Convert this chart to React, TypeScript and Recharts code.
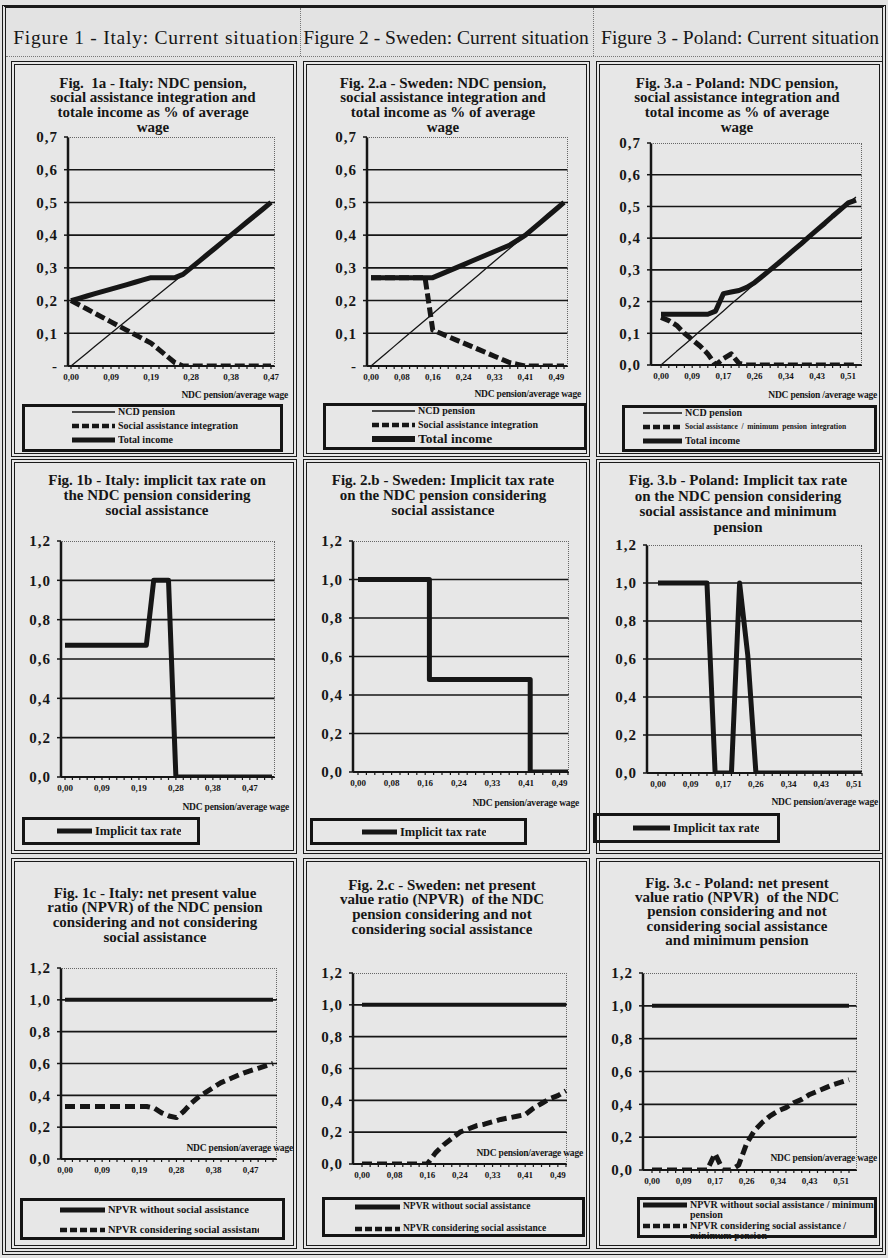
import React from 'react';
import { LineChart, Line, XAxis, YAxis, CartesianGrid } from 'recharts';

const SERIF = "'Liberation Serif', 'Times New Roman', serif";
const INK = '#161616';

// x categories: NDC pension / average wage
const italyXa = [0, 0.0189, 0.0378, 0.0567, 0.0756, 0.0945, 0.1134, 0.1323, 0.1512, 0.1701, 0.189, 0.2079, 0.2268, 0.2457, 0.2646, 0.2835, 0.3024, 0.3213, 0.3402, 0.3591, 0.378, 0.3969, 0.4158, 0.4347, 0.4536, 0.4725];
const italyXbc = [0, 0.0189, 0.0378, 0.0567, 0.0756, 0.0945, 0.1134, 0.1323, 0.1512, 0.1701, 0.189, 0.2079, 0.2268, 0.2457, 0.2646, 0.2835, 0.3024, 0.3213, 0.3402, 0.3591, 0.378, 0.3969, 0.4158, 0.4347, 0.4536, 0.4725, 0.4914, 0.5103, 0.5292];
const swedenX = [0, 0.0204, 0.0408, 0.0612, 0.0816, 0.102, 0.1224, 0.1428, 0.1632, 0.1836, 0.204, 0.2244, 0.2448, 0.2652, 0.2856, 0.306, 0.3264, 0.3468, 0.3672, 0.3876, 0.408, 0.4284, 0.4488, 0.4692, 0.4896, 0.51];
const polandX = [0, 0.0213, 0.0426, 0.0639, 0.0852, 0.1065, 0.1278, 0.1491, 0.1704, 0.1917, 0.213, 0.2343, 0.2556, 0.2769, 0.2982, 0.3195, 0.3408, 0.3621, 0.3834, 0.4047, 0.426, 0.4473, 0.4686, 0.4899, 0.5112, 0.5325];

// y ticks
const incomeTicks = [0, 0.1, 0.2, 0.3, 0.4, 0.5, 0.6, 0.7];
const ratioTicks = [0, 0.2, 0.4, 0.6, 0.8, 1.0, 1.2];

// Fig 1a - Italy
const italyNcd = [0, 0.02, 0.04, 0.06, 0.08, 0.1, 0.12, 0.14, 0.16, 0.18, 0.2, 0.22, 0.24, 0.26, 0.28, 0.3, 0.32, 0.34, 0.36, 0.38, 0.4, 0.42, 0.44, 0.46, 0.48, 0.5];
const italySocial = [0.2, 0.187, 0.174, 0.161, 0.148, 0.135, 0.122, 0.109, 0.096, 0.083, 0.07, 0.05, 0.03, 0.01, 0, 0, 0, 0, 0, 0, 0, 0, 0, 0, 0, 0];
const italyTotal = [0.2, 0.207, 0.214, 0.221, 0.228, 0.235, 0.242, 0.249, 0.256, 0.263, 0.27, 0.27, 0.27, 0.27, 0.28, 0.3, 0.32, 0.34, 0.36, 0.38, 0.4, 0.42, 0.44, 0.46, 0.48, 0.5];
// Fig 1b
const italyTax = [0.67, 0.67, 0.67, 0.67, 0.67, 0.67, 0.67, 0.67, 0.67, 0.67, 0.67, 0.67, 1, 1, 1, 0, 0, 0, 0, 0, 0, 0, 0, 0, 0, 0, 0, 0, 0];
// Fig 1c
const italyNpvrWithout = [1, 1, 1, 1, 1, 1, 1, 1, 1, 1, 1, 1, 1, 1, 1, 1, 1, 1, 1, 1, 1, 1, 1, 1, 1, 1, 1, 1, 1];
const italyNpvrWith = [0.33, 0.33, 0.33, 0.33, 0.33, 0.33, 0.33, 0.33, 0.33, 0.33, 0.33, 0.33, 0.32, 0.29, 0.27, 0.26, 0.3, 0.35, 0.39, 0.42, 0.45, 0.48, 0.5, 0.52, 0.54, 0.555, 0.57, 0.585, 0.6];

// Fig 2a - Sweden
const swedenNcd = [0, 0.02, 0.04, 0.06, 0.08, 0.1, 0.12, 0.14, 0.16, 0.18, 0.2, 0.22, 0.24, 0.26, 0.28, 0.3, 0.32, 0.34, 0.36, 0.38, 0.4, 0.42, 0.44, 0.46, 0.48, 0.5];
const swedenSocial = [0.27, 0.27, 0.27, 0.27, 0.27, 0.27, 0.27, 0.27, 0.11, 0.1, 0.09, 0.08, 0.07, 0.06, 0.05, 0.04, 0.03, 0.02, 0.01, 0.005, 0, 0, 0, 0, 0, 0];
const swedenTotal = [0.27, 0.27, 0.27, 0.27, 0.27, 0.27, 0.27, 0.27, 0.27, 0.28, 0.29, 0.3, 0.31, 0.32, 0.33, 0.34, 0.35, 0.36, 0.37, 0.385, 0.4, 0.42, 0.44, 0.46, 0.48, 0.5];
// Fig 2b
const swedenTax = [1, 1, 1, 1, 1, 1, 1, 1, 1, 0.48, 0.48, 0.48, 0.48, 0.48, 0.48, 0.48, 0.48, 0.48, 0.48, 0.48, 0.48, 0, 0, 0, 0, 0];
// Fig 2c
const swedenNpvrWithout = [1, 1, 1, 1, 1, 1, 1, 1, 1, 1, 1, 1, 1, 1, 1, 1, 1, 1, 1, 1, 1, 1, 1, 1, 1, 1];
const swedenNpvrWith = [0, 0, 0, 0, 0, 0, 0, 0, 0, 0.07, 0.12, 0.16, 0.2, 0.22, 0.24, 0.25, 0.265, 0.28, 0.29, 0.3, 0.31, 0.35, 0.38, 0.41, 0.43, 0.46];

// Fig 3a - Poland
const polandNcd = [0, 0.021, 0.043, 0.064, 0.085, 0.107, 0.128, 0.149, 0.17, 0.192, 0.213, 0.234, 0.256, 0.277, 0.298, 0.32, 0.341, 0.362, 0.383, 0.405, 0.426, 0.447, 0.469, 0.49, 0.511, 0.53];
const polandSocial = [0.15, 0.14, 0.125, 0.1, 0.08, 0.06, 0.035, 0, 0.02, 0.035, 0.005, 0, 0, 0, 0, 0, 0, 0, 0, 0, 0, 0, 0, 0, 0, 0];
const polandTotal = [0.16, 0.16, 0.16, 0.16, 0.16, 0.16, 0.16, 0.17, 0.225, 0.23, 0.235, 0.245, 0.26, 0.28, 0.3, 0.32, 0.341, 0.362, 0.383, 0.405, 0.426, 0.447, 0.469, 0.49, 0.511, 0.52];
// Fig 3b
const polandTax = [1, 1, 1, 1, 1, 1, 1, 0, 0, 0, 1, 0.62, 0, 0, 0, 0, 0, 0, 0, 0, 0, 0, 0, 0, 0, 0];
// Fig 3c
const polandNpvrWithout = [1, 1, 1, 1, 1, 1, 1, 1, 1, 1, 1, 1, 1, 1, 1, 1, 1, 1, 1, 1, 1, 1, 1, 1, 1, 1];
const polandNpvrWith = [0, 0, 0, 0, 0, 0, 0, 0, 0.1, 0, 0, 0.03, 0.16, 0.24, 0.29, 0.33, 0.36, 0.38, 0.41, 0.43, 0.46, 0.48, 0.5, 0.52, 0.535, 0.55];

type Box = { l: number; t: number; r: number; b: number };
type SeriesDef = { key: string; width: number; dash?: string; step?: boolean };

const comma = (v: number, d: number) => v.toFixed(d).replace('.', ',');

function Plot({
  data,
  series,
  every,
  yTicks,
  dashZero,
  box,
  padL,
  padR,
}: {
  data: Array<Record<string, number>>;
  series: SeriesDef[];
  every: number;
  yTicks: number[];
  dashZero?: boolean;
  box: Box;
  padL: number;
  padR: number;
}) {
  const w = box.r - box.l + 80;
  const h = box.b - box.t + 62;
  const top = yTicks[yTicks.length - 1];
  return (
    <>
      <div style={{ position: 'absolute', left: box.l - 50, top: box.t - 12 }}>
        <LineChart width={w} height={h} data={data} margin={{ top: 12, right: 30, bottom: 0, left: 0 }}>
          <CartesianGrid
            vertical={false}
            horizontalValues={yTicks.slice(1, -1)}
            stroke={INK}
            strokeWidth={1.6}
            strokeDasharray=""
          />
          <XAxis
            dataKey='x'
            type='category'
            interval={0}
            height={50}
            padding={{ left: padL, right: padR }}
            tickSize={3}
            tickMargin={5}
            tickFormatter={(v: number, i: number) => (i % every === 0 ? comma(v, 2) : '')}
            tick={{ fontSize: 9, fill: INK, fontFamily: SERIF, fontWeight: 'bold' }}
            axisLine={{ stroke: INK, strokeWidth: 2 }}
            tickLine={{ stroke: INK, strokeWidth: 1.2 }}
          />
          <YAxis
            type='number'
            domain={[0, top]}
            ticks={yTicks}
            interval={0}
            width={50}
            tickSize={4}
            tickMargin={6}
            allowDataOverflow
            tickFormatter={(v: number) => (v === 0 && dashZero ? '-' : comma(v, 1))}
            tick={{ fontSize: 15, fill: INK, fontFamily: SERIF, fontWeight: 'bold', letterSpacing: 1 }}
            axisLine={{ stroke: INK, strokeWidth: 2.5 }}
            tickLine={{ stroke: INK, strokeWidth: 1.5 }}
          />
          {series.map((s) => (
            <Line
              key={s.key}
              dataKey={s.key}
              type={s.step ? 'step' : 'linear'}
              stroke={INK}
              strokeWidth={s.width}
              strokeDasharray={s.dash}
              strokeLinejoin='round'
              dot={false}
              activeDot={false}
              isAnimationActive={false}
            />
          ))}
        </LineChart>
      </div>
      <div
        style={{
          position: 'absolute',
          left: box.l,
          top: box.t,
          width: box.r - box.l,
          height: box.b - box.t,
          borderTop: '1px dotted #666',
          borderRight: '1px dotted #666',
          boxSizing: 'border-box',
          pointerEvents: 'none',
        }}
      />
    </>
  );
}

type Kind = 'thin' | 'dash' | 'thick';
type LegendItem = { label: string; kind: Kind; y: number; fontSize: number; textW: number; lh?: number; big?: boolean };

function Legend({
  box,
  sampleX,
  sampleW,
  textX,
  items,
}: {
  box: { l: number; t: number; w: number; h: number };
  sampleX: number;
  sampleW: number;
  textX: number;
  items: LegendItem[];
}) {
  return (
    <>
      <div
        style={{
          position: 'absolute',
          left: box.l,
          top: box.t,
          width: box.w,
          height: box.h,
          border: '3px solid #141414',
          boxSizing: 'border-box',
        }}
      />
      {items.map((it, i) => {
        const sw = it.kind === 'thin' ? 1.5 : it.kind === 'dash' ? 4.5 : it.big ? 6 : 5;
        const lh = it.lh ?? it.fontSize + 2;
        return (
          <React.Fragment key={i}>
            <svg
              style={{ position: 'absolute', left: sampleX, top: it.y - 5, overflow: 'visible' }}
              width={sampleW}
              height={10}
            >
              <line
                x1={0}
                y1={5}
                x2={sampleW}
                y2={5}
                stroke={INK}
                strokeWidth={sw}
                strokeDasharray={it.kind === 'dash' ? '7 3' : undefined}
              />
            </svg>
            <div
              style={{
                position: 'absolute',
                left: textX,
                top: it.y - lh / 2,
                width: it.textW,
                overflow: 'hidden',
                whiteSpace: 'pre',
                fontSize: it.fontSize,
                lineHeight: `${lh}px`,
                fontFamily: SERIF,
                fontWeight: 'bold',
                color: INK,
              }}
            >
              {it.label}
            </div>
          </React.Fragment>
        );
      })}
    </>
  );
}

function Title({ cx, y0, lh, lines }: { cx: number; y0: number; lh: number; lines: string[] }) {
  return (
    <div
      style={{
        position: 'absolute',
        left: cx - 128,
        top: y0 - lh / 2,
        width: 256,
        display: 'flex',
        flexDirection: 'column',
        alignItems: 'center',
        fontFamily: SERIF,
        fontWeight: 'bold',
        fontSize: 15,
        lineHeight: `${lh}px`,
        color: INK,
      }}
    >
      {lines.map((line, i) => (
        <span key={i} style={{ whiteSpace: 'pre' }}>
          {line}
        </span>
      ))}
    </div>
  );
}

function AxisName({ right, cy, text }: { right: number; cy: number; text: string }) {
  return (
    <div
      style={{
        position: 'absolute',
        left: right - 120,
        top: cy - 6,
        width: 120,
        textAlign: 'right',
        whiteSpace: 'pre',
        fontFamily: SERIF,
        fontWeight: 'bold',
        fontSize: 9.5,
        lineHeight: '12px',
        color: INK,
        letterSpacing: -0.2,
      }}
    >
      {text}
    </div>
  );
}

function Panel({ l, t, w, h }: { l: number; t: number; w: number; h: number }) {
  return (
    <div
      style={{
        position: 'absolute',
        left: l,
        top: t,
        width: w,
        height: h,
        border: '4px double #1a1a1a',
        boxSizing: 'border-box',
        background: '#e7e7e7',
      }}
    />
  );
}

const AXIS_NAME = 'NDC pension/average wage';

export default function App() {
  const rows1a = italyXa.map((x, i) => ({ x, ncd: italyNcd[i], social: italySocial[i], total: italyTotal[i] }));
  const rows1b = italyXbc.map((x, i) => ({ x, tax: italyTax[i] }));
  const rows1c = italyXbc.map((x, i) => ({ x, without: italyNpvrWithout[i], withSa: italyNpvrWith[i] }));
  const rows2a = swedenX.map((x, i) => ({ x, ncd: swedenNcd[i], social: swedenSocial[i], total: swedenTotal[i] }));
  const rows2b = swedenX.map((x, i) => ({ x, tax: swedenTax[i] }));
  const rows2c = swedenX.map((x, i) => ({ x, without: swedenNpvrWithout[i], withSa: swedenNpvrWith[i] }));
  const rows3a = polandX.map((x, i) => ({ x, ncd: polandNcd[i], social: polandSocial[i], total: polandTotal[i] }));
  const rows3b = polandX.map((x, i) => ({ x, tax: polandTax[i] }));
  const rows3c = polandX.map((x, i) => ({ x, without: polandNpvrWithout[i], withSa: polandNpvrWith[i] }));

  const incomeSeries: SeriesDef[] = [
    { key: 'ncd', width: 1.3 },
    { key: 'social', width: 5, dash: '10 4' },
    { key: 'total', width: 5 },
  ];
  const taxSeries: SeriesDef[] = [{ key: 'tax', width: 5 }];
  const npvrSeries: SeriesDef[] = [
    { key: 'without', width: 4 },
    { key: 'withSa', width: 5, dash: '10 5' },
  ];

  const headerStyle: React.CSSProperties = {
    position: 'absolute',
    top: 26,
    width: 300,
    textAlign: 'center',
    fontFamily: SERIF,
    fontSize: 19.5,
    lineHeight: '24px',
    whiteSpace: 'pre',
    color: INK,
  };

  return (
    <div
      style={{
        position: 'absolute',
        left: 0,
        top: 0,
        width: 888,
        height: 1258,
        background: '#e3e3e3',
        overflow: 'hidden',
      }}
    >
      {/* page frame */}
      <div
        style={{
          position: 'absolute',
          left: 2,
          top: 5,
          width: 884,
          height: 1250,
          border: '4px double #1a1a1a',
          borderTopStyle: 'solid',
          borderTopWidth: 3,
          boxSizing: 'border-box',
        }}
      />
      <div style={{ position: 'absolute', left: 6, top: 56, width: 876, borderTop: '1px dotted #777' }} />
      <div style={{ position: 'absolute', left: 300, top: 8, height: 48, borderLeft: '1px dotted #777' }} />
      <div style={{ position: 'absolute', left: 593, top: 8, height: 48, borderLeft: '1px dotted #777' }} />
      <div style={{ ...headerStyle, left: 6, letterSpacing: 0.75 }}>Figure 1 - Italy: Current situation</div>
      <div style={{ ...headerStyle, left: 296 }}>Figure 2 - Sweden: Current situation</div>
      <div style={{ ...headerStyle, left: 590 }}>Figure 3 - Poland: Current situation</div>

      {/* panels */}
      <Panel l={11} t={61} w={286} h={396} />
      <Panel l={303} t={61} w={287} h={396} />
      <Panel l={596} t={61} w={287} h={396} />
      <Panel l={11} t={459} w={286} h={395} />
      <Panel l={303} t={459} w={287} h={395} />
      <Panel l={596} t={459} w={287} h={395} />
      <Panel l={11} t={858} w={286} h={391} />
      <Panel l={303} t={858} w={287} h={391} />
      <Panel l={596} t={858} w={287} h={391} />

      {/* Fig 1a */}
      <Title cx={153} y0={83} lh={14.7} lines={['Fig.  1a - Italy: NDC pension,', 'social assistance integration and', 'totale income as % of average', 'wage']} />
      <Plot data={rows1a} series={incomeSeries} every={5} yTicks={incomeTicks} dashZero box={{ l: 68, t: 137, r: 275, b: 366 }} padL={3} padR={4} />
      <AxisName right={288} cy={395} text={AXIS_NAME} />
      <Legend
        box={{ l: 22, t: 404, w: 261, h: 48 }}
        sampleX={72}
        sampleW={43}
        textX={118}
        items={[
          { label: 'NCD pension', kind: 'thin', y: 412, fontSize: 10, textW: 150 },
          { label: 'Social assistance integration', kind: 'dash', y: 426, fontSize: 10, textW: 122 },
          { label: 'Total income', kind: 'thick', y: 440, fontSize: 10, textW: 150 },
        ]}
      />

      {/* Fig 2a */}
      <Title cx={443} y0={83} lh={14.7} lines={['Fig. 2.a - Sweden: NDC pension,', 'social assistance integration and', 'total income as % of average', 'wage']} />
      <Plot data={rows2a} series={incomeSeries} every={4} yTicks={incomeTicks} dashZero box={{ l: 367, t: 137, r: 568, b: 366 }} padL={4} padR={4} />
      <AxisName right={581} cy={394} text={AXIS_NAME} />
      <Legend
        box={{ l: 323, t: 403, w: 264, h: 47 }}
        sampleX={372}
        sampleW={43}
        textX={418}
        items={[
          { label: 'NCD pension', kind: 'thin', y: 411, fontSize: 10, textW: 150 },
          { label: 'Social assistance integration', kind: 'dash', y: 425, fontSize: 10, textW: 122 },
          { label: 'Total income', kind: 'thick', y: 439, fontSize: 13.5, textW: 150, big: true },
        ]}
      />

      {/* Fig 3a */}
      <Title cx={737} y0={83} lh={14.7} lines={['Fig. 3.a - Poland: NDC pension,', 'social assistance integration and', 'total income as % of average', 'wage']} />
      <Plot data={rows3a} series={incomeSeries} every={4} yTicks={incomeTicks} box={{ l: 651, t: 143, r: 862, b: 365 }} padL={10} padR={6} />
      <AxisName right={877} cy={395} text='NDC pension /average wage' />
      <Legend
        box={{ l: 622, t: 405, w: 255, h: 47 }}
        sampleX={643}
        sampleW={39}
        textX={685}
        items={[
          { label: 'NCD pension', kind: 'thin', y: 413, fontSize: 10, textW: 150 },
          { label: 'Social assistance  /  minimum  pension  integration', kind: 'dash', y: 427, fontSize: 7.5, textW: 170 },
          { label: 'Total income', kind: 'thick', y: 441, fontSize: 10, textW: 150 },
        ]}
      />

      {/* Fig 1b */}
      <Title cx={157} y0={480} lh={15} lines={['Fig. 1b - Italy: implicit tax rate on', 'the NDC pension considering', 'social assistance']} />
      <Plot data={rows1b} series={taxSeries} every={5} yTicks={ratioTicks} box={{ l: 61, t: 541, r: 275, b: 777 }} padL={4} padR={3} />
      <AxisName right={289} cy={807} text={AXIS_NAME} />
      <Legend
        box={{ l: 22, t: 817, w: 178, h: 28 }}
        sampleX={57}
        sampleW={35}
        textX={95}
        items={[{ label: 'Implicit tax rate', kind: 'thick', y: 831, fontSize: 12.5, textW: 86 }]}
      />

      {/* Fig 2b */}
      <Title cx={443} y0={480} lh={15} lines={['Fig. 2.b - Sweden: Implicit tax rate', 'on the NDC pension considering', 'social assistance']} />
      <Plot data={rows2b} series={[{ key: 'tax', width: 5, step: true }]} every={4} yTicks={ratioTicks} box={{ l: 353, t: 541, r: 569, b: 772 }} padL={5} padR={1} />
      <AxisName right={579} cy={803} text={AXIS_NAME} />
      <Legend
        box={{ l: 310, t: 818, w: 217, h: 27 }}
        sampleX={362}
        sampleW={35}
        textX={400}
        items={[{ label: 'Implicit tax rate', kind: 'thick', y: 832, fontSize: 12.5, textW: 86 }]}
      />

      {/* Fig 3b */}
      <Title cx={738} y0={481} lh={15.6} lines={['Fig. 3.b - Poland: Implicit tax rate', 'on the NDC pension considering', 'social assistance and minimum', 'pension']} />
      <Plot data={rows3b} series={taxSeries} every={4} yTicks={ratioTicks} box={{ l: 647, t: 545, r: 862, b: 773 }} padL={11} padR={0} />
      <AxisName right={878} cy={802} text={AXIS_NAME} />
      <Legend
        box={{ l: 593, t: 813, w: 187, h: 30 }}
        sampleX={633}
        sampleW={37}
        textX={673}
        items={[{ label: 'Implicit tax rate', kind: 'thick', y: 828, fontSize: 12.5, textW: 86 }]}
      />

      {/* Fig 1c */}
      <Title cx={155} y0={893} lh={14.7} lines={['Fig. 1c - Italy: net present value', 'ratio (NPVR) of the NDC pension', 'considering and not considering', 'social assistance']} />
      <Plot data={rows1c} series={npvrSeries} every={5} yTicks={ratioTicks} box={{ l: 61, t: 968, r: 277, b: 1159 }} padL={4} padR={4} />
      <AxisName right={293} cy={1148} text={AXIS_NAME} />
      <Legend
        box={{ l: 20, t: 1198, w: 265, h: 42 }}
        sampleX={60}
        sampleW={45}
        textX={108}
        items={[
          { label: 'NPVR without social assistance', kind: 'thick', y: 1210, fontSize: 10.5, textW: 149 },
          { label: 'NPVR considering social assistance', kind: 'dash', y: 1230, fontSize: 10.5, textW: 151 },
        ]}
      />

      {/* Fig 2c */}
      <Title cx={442} y0={885} lh={14.9} lines={['Fig. 2.c - Sweden: net present', 'value ratio (NPVR)  of the NDC', 'pension considering and not', 'considering social assistance']} />
      <Plot data={rows2c} series={npvrSeries} every={4} yTicks={ratioTicks} box={{ l: 353, t: 973, r: 567, b: 1164 }} padL={9} padR={1} />
      <AxisName right={583} cy={1153} text={AXIS_NAME} />
      <Legend
        box={{ l: 322, t: 1197, w: 263, h: 40 }}
        sampleX={355}
        sampleW={45}
        textX={403}
        items={[
          { label: 'NPVR without social assistance', kind: 'thick', y: 1207, fontSize: 9.5, textW: 128 },
          { label: 'NPVR considering social assistance', kind: 'dash', y: 1229, fontSize: 9.5, textW: 155 },
        ]}
      />

      {/* Fig 3c */}
      <Title cx={737} y0={883} lh={14.3} lines={['Fig. 3.c - Poland: net present', 'value ratio (NPVR)  of the NDC', 'pension considering and not', 'considering social assistance', 'and minimum pension']} />
      <Plot data={rows3c} series={npvrSeries} every={4} yTicks={ratioTicks} box={{ l: 643, t: 973, r: 857, b: 1170 }} padL={9} padR={8} />
      <AxisName right={877} cy={1158} text={AXIS_NAME} />
      <Legend
        box={{ l: 637, t: 1197, w: 240, h: 41 }}
        sampleX={643}
        sampleW={44}
        textX={690}
        items={[
          { label: 'NPVR without social assistance / minimum\npension', kind: 'thick', y: 1205, fontSize: 10, lh: 10, textW: 184 },
          { label: 'NPVR considering social assistance /\nminimum pension', kind: 'dash', y: 1226, fontSize: 10, lh: 10, textW: 184 },
        ]}
      />
    </div>
  );
}
